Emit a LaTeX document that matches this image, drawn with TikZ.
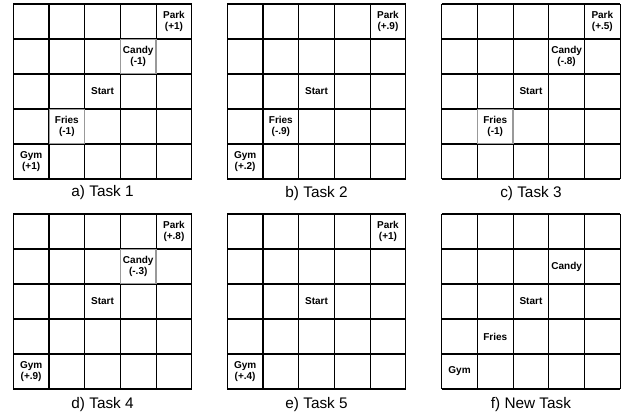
\documentclass[tikz,border=0pt]{standalone}
\usepackage{fontspec}
\setmainfont{Liberation Sans}
\usepackage{tikz}

\begin{document}
\begin{tikzpicture}[x=0.75pt, y=-0.75pt,
	every node/.style={font=\fontsize{7.5}{7.8}\selectfont\bfseries, align=center},
	cellgrid/.style={line width=0.9pt},
	marked/.style={draw=black!40, line width=0.9pt, minimum width=26.6pt, minimum height=26pt, inner sep=0pt},
	caption/.style={font=\fontsize{11.5}{14}\selectfont}]
	\useasboundingbox (0,0) rectangle (636,415);

	% the six 5x5 boards
	\foreach \ox/\oy in {13.3/4, 227.3/4, 441.7/4, 13.3/214, 227.3/214, 441.7/214} {
		\foreach \i in {0,...,5} {
			\draw[cellgrid] (\ox+35.7*\i,\oy) -- (\ox+35.7*\i,\oy+175);
			\draw[cellgrid] (\ox,\oy+35*\i) -- (\ox+178.5,\oy+35*\i);
		}
	}

	% a) Task 1
	\begin{scope}[shift={(13.3,4)}, x=26.775pt, y=-26.25pt]
		\node (a-park) at (4.5,0.5) {Park\\(+1)};
		\node[marked] (a-candy) at (3.5,1.5) {Candy\\(-1)};
		\node (a-start) at (2.5,2.5) {Start};
		\node[marked] (a-fries) at (1.5,3.5) {Fries\\(-1)};
		\node (a-gym) at (0.5,4.5) {Gym\\(+1)};
		\node[caption] (a-cap) at (2.5,5.4) {a) Task 1};
	\end{scope}

	% b) Task 2
	\begin{scope}[shift={(227.3,4)}, x=26.775pt, y=-26.25pt]
		\node (b-park) at (4.5,0.5) {Park\\(+.9)};
		\node (b-start) at (2.5,2.5) {Start};
		\node (b-fries) at (1.5,3.5) {Fries\\(-.9)};
		\node (b-gym) at (0.5,4.5) {Gym\\(+.2)};
		\node[caption] (b-cap) at (2.5,5.42) {b) Task 2};
	\end{scope}

	% c) Task 3
	\begin{scope}[shift={(441.7,4)}, x=26.775pt, y=-26.25pt]
		\node (c-park) at (4.5,0.5) {Park\\(+.5)};
		\node (c-candy) at (3.5,1.5) {Candy\\(-.8)};
		\node (c-start) at (2.5,2.5) {Start};
		\node[marked] (c-fries) at (1.5,3.5) {Fries\\(-1)};
		\node[caption] (c-cap) at (2.5,5.42) {c) Task 3};
	\end{scope}

	% d) Task 4
	\begin{scope}[shift={(13.3,214)}, x=26.775pt, y=-26.25pt]
		\node (d-park) at (4.5,0.5) {Park\\(+.8)};
		\node[marked] (d-candy) at (3.5,1.5) {Candy\\(-.3)};
		\node (d-start) at (2.5,2.5) {Start};
		\node (d-gym) at (0.5,4.5) {Gym\\(+.9)};
		\node[caption] (d-cap) at (2.5,5.45) {d) Task 4};
	\end{scope}

	% e) Task 5
	\begin{scope}[shift={(227.3,214)}, x=26.775pt, y=-26.25pt]
		\node (e-park) at (4.5,0.5) {Park\\(+1)};
		\node (e-start) at (2.5,2.5) {Start};
		\node (e-gym) at (0.5,4.5) {Gym\\(+.4)};
		\node[caption] (e-cap) at (2.5,5.45) {e) Task 5};
	\end{scope}

	% f) New Task
	\begin{scope}[shift={(441.7,214)}, x=26.775pt, y=-26.25pt]
		\node (f-candy) at (3.5,1.5) {Candy};
		\node (f-start) at (2.5,2.5) {Start};
		\node (f-fries) at (1.5,3.5) {Fries};
		\node (f-gym) at (0.5,4.5) {Gym};
		\node[caption] (f-cap) at (2.5,5.45) {f) New Task};
	\end{scope}
\end{tikzpicture}
\end{document}
